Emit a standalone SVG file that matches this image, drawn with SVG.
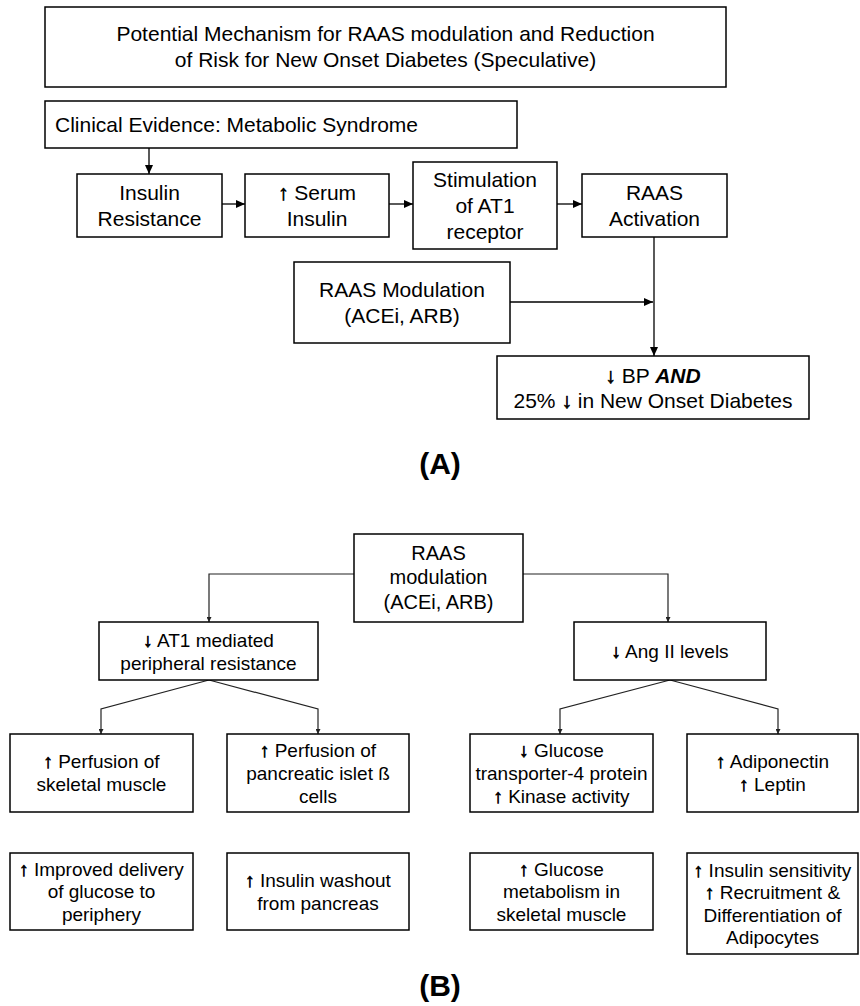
<svg xmlns="http://www.w3.org/2000/svg" width="860" height="1006" viewBox="0 0 860 1006">
<defs>
<style>
.box{fill:#fff;stroke:#000;stroke-width:1.5}
.t{font-family:"Liberation Sans",Arial,Helvetica,sans-serif;font-size:21px;fill:#000;text-anchor:middle}
.tb{font-family:"Liberation Sans",Arial,Helvetica,sans-serif;font-size:19px;fill:#000;text-anchor:middle}
.lbl{font-family:"Liberation Sans",Arial,Helvetica,sans-serif;font-size:30px;font-weight:bold;fill:#000;text-anchor:middle}
.ar{fill:#000;stroke:#000;stroke-width:0.7}
.ca{fill:none;stroke:#000;stroke-width:1.3;marker-end:url(#ah)}
.cb{fill:none;stroke:#222;stroke-width:1.2;marker-end:url(#ahs)}
</style>
<marker id="ah" markerUnits="userSpaceOnUse" markerWidth="9" markerHeight="8" refX="9" refY="4" orient="auto">
<path d="M0,0 L9,4 L0,8 z" fill="#000"/>
</marker>
<marker id="ahs" markerUnits="userSpaceOnUse" markerWidth="5" markerHeight="5" refX="5" refY="2.5" orient="auto">
<path d="M0,0 L5,2.5 L0,5 z" fill="#222"/>
</marker>
</defs>
<rect width="860" height="1006" fill="#fff"/>

<g id="connectors">
<path class="ca" d="M149,148 V174"/>
<path class="ca" d="M222,204 H245"/>
<path class="ca" d="M389,204 H413"/>
<path class="ca" d="M557,204 H582"/>
<path class="ca" d="M510,302 H653"/>
<path class="ca" d="M654,237 V356"/>
<path class="cb" d="M354,574 H209 V622"/>
<path class="cb" d="M523,574 H668 V622"/>
<path class="cb" d="M209,680 L101,709 V734"/>
<path class="cb" d="M209,680 L318,709 V734"/>
<path class="cb" d="M670,680 L560,709 V734"/>
<path class="cb" d="M670,680 L778,709 V734"/>
</g>

<g id="title">
<rect class="box" x="45" y="7" width="681" height="80"/>
<text class="t" x="385.5" y="41">Potential Mechanism for RAAS modulation and Reduction</text>
<text class="t" x="385.5" y="67">of Risk for New Onset Diabetes (Speculative)</text>
</g>
<g id="clinical">
<rect class="box" x="45" y="101" width="472" height="47"/>
<text class="t" x="55" y="132" style="text-anchor:start">Clinical Evidence: Metabolic Syndrome</text>
</g>
<g id="insulin-resistance">
<rect class="box" x="77" y="174" width="145" height="63"/>
<text class="t" x="149.5" y="200">Insulin</text>
<text class="t" x="149.5" y="226">Resistance</text>
</g>
<g id="serum-insulin">
<rect class="box" x="245" y="174" width="144" height="63"/>
<text class="t" x="317" y="200"><tspan class="ar">↑</tspan> Serum</text>
<text class="t" x="317" y="226">Insulin</text>
</g>
<g id="stimulation">
<rect class="box" x="413" y="162" width="144" height="87"/>
<text class="t" x="485" y="187">Stimulation</text>
<text class="t" x="485" y="213">of AT1</text>
<text class="t" x="485" y="239">receptor</text>
</g>
<g id="raas-activation">
<rect class="box" x="582" y="174" width="145" height="63"/>
<text class="t" x="654.5" y="200">RAAS</text>
<text class="t" x="654.5" y="226">Activation</text>
</g>
<g id="raas-modulation-a">
<rect class="box" x="294" y="262" width="216" height="81"/>
<text class="t" x="402" y="297">RAAS Modulation</text>
<text class="t" x="402" y="323">(ACEi, ARB)</text>
</g>
<g id="result">
<rect class="box" x="497" y="356" width="312" height="63"/>
<text class="t" x="653" y="383"><tspan class="ar">↓</tspan> BP <tspan font-weight="bold" font-style="italic">AND</tspan></text>
<text class="t" x="653" y="408">25% <tspan class="ar">↓</tspan> in New Onset Diabetes</text>
</g>
<text class="lbl" x="440" y="474">(A)</text>

<g id="raas-modulation-b">
<rect class="box" x="354" y="534" width="169" height="88"/>
<text class="t" x="438.5" y="560" style="font-size:20px">RAAS</text>
<text class="t" x="438.5" y="584" style="font-size:20px">modulation</text>
<text class="t" x="438.5" y="609" style="font-size:20px">(ACEi, ARB)</text>
</g>
<g id="at1">
<rect class="box" x="99" y="622" width="219" height="58"/>
<text class="tb" x="208.5" y="647"><tspan class="ar">↓</tspan> AT1 mediated</text>
<text class="tb" x="208.5" y="670">peripheral resistance</text>
</g>
<g id="angii">
<rect class="box" x="574" y="622" width="192" height="58"/>
<text class="tb" x="670" y="658"><tspan class="ar">↓</tspan> Ang II levels</text>
</g>
<g id="perf-muscle">
<rect class="box" x="10" y="734" width="183" height="78"/>
<text class="tb" x="101.5" y="768"><tspan class="ar">↑</tspan> Perfusion of</text>
<text class="tb" x="101.5" y="791">skeletal muscle</text>
</g>
<g id="perf-islet">
<rect class="box" x="227" y="734" width="182" height="78"/>
<text class="tb" x="318" y="757"><tspan class="ar">↑</tspan> Perfusion of</text>
<text class="tb" x="318" y="780">pancreatic islet ß</text>
<text class="tb" x="318" y="803">cells</text>
</g>
<g id="glut4">
<rect class="box" x="470" y="734" width="183" height="78"/>
<text class="tb" x="561.5" y="757"><tspan class="ar">↓</tspan> Glucose</text>
<text class="tb" x="561.5" y="780">transporter-4 protein</text>
<text class="tb" x="561.5" y="803"><tspan class="ar">↑</tspan> Kinase activity</text>
</g>
<g id="adiponectin">
<rect class="box" x="687" y="734" width="171" height="78"/>
<text class="tb" x="772.5" y="768"><tspan class="ar">↑</tspan> Adiponectin</text>
<text class="tb" x="772.5" y="791"><tspan class="ar">↑</tspan> Leptin</text>
</g>
<g id="delivery">
<rect class="box" x="10" y="853" width="183" height="77"/>
<text class="tb" x="101.5" y="876"><tspan class="ar">↑</tspan> Improved delivery</text>
<text class="tb" x="101.5" y="898">of glucose to</text>
<text class="tb" x="101.5" y="921">periphery</text>
</g>
<g id="washout">
<rect class="box" x="227" y="853" width="182" height="77"/>
<text class="tb" x="318" y="887"><tspan class="ar">↑</tspan> Insulin washout</text>
<text class="tb" x="318" y="910">from pancreas</text>
</g>
<g id="glucose-metabolism">
<rect class="box" x="470" y="853" width="183" height="77"/>
<text class="tb" x="561.5" y="876"><tspan class="ar">↑</tspan> Glucose</text>
<text class="tb" x="561.5" y="898">metabolism in</text>
<text class="tb" x="561.5" y="921">skeletal muscle</text>
</g>
<g id="insulin-sensitivity">
<rect class="box" x="687" y="853" width="171" height="101"/>
<text class="tb" x="772.5" y="877"><tspan class="ar">↑</tspan> Insulin sensitivity</text>
<text class="tb" x="772.5" y="899"><tspan class="ar">↑</tspan> Recruitment &amp;</text>
<text class="tb" x="772.5" y="922">Differentiation of</text>
<text class="tb" x="772.5" y="944">Adipocytes</text>
</g>
<text class="lbl" x="440" y="996">(B)</text>
</svg>
